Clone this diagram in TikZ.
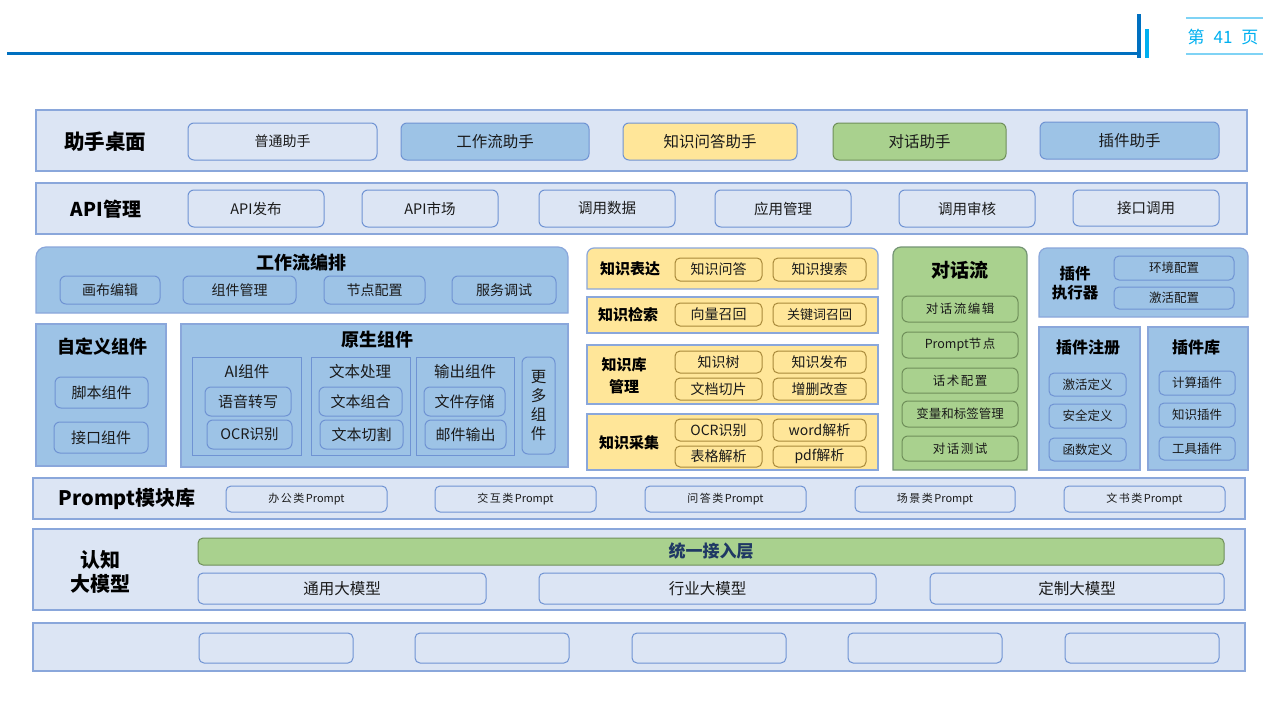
\documentclass[tikz,border=0pt]{standalone}
\usepackage{fontspec}
\setmainfont{Noto Sans CJK SC}
\usetikzlibrary{calc}
\definecolor{rowfill}{HTML}{DCE5F4}
\definecolor{rowborder}{HTML}{8AA7DB}
\definecolor{boxborder}{HTML}{6F93D3}
\definecolor{cblue}{HTML}{9DC3E6}
\definecolor{cyellow}{HTML}{FFE699}
\definecolor{cgreen}{HTML}{A9D18E}
\definecolor{goldborder}{HTML}{A8893A}
\definecolor{greenborder}{HTML}{6F8F5A}
\definecolor{hdrblue}{HTML}{0070C0}
\definecolor{hdrcyan}{HTML}{00B0F0}
\definecolor{hdrlight}{HTML}{7FD3F5}
\definecolor{navy}{HTML}{1F3864}
\definecolor{txt}{HTML}{1A1A1A}
\newcommand\fsz[2]{\fontsize{#1}{#2}\selectfont}
\newcommand\mkbox[7]{\node[#2, minimum width={(#5-#3)*1pt}, minimum height={(#6-#4)*1pt}] (#1) at ({(#3+#5)/2},{(#4+#6)/2}) {#7};}
\newcommand\toprounded[4]{\draw[#2] (#1.south west) -- ([yshift=-#3]#1.north west) arc[start angle=180,end angle=90,radius=#3] -- ([xshift=-#3]#1.north east) arc[start angle=90,end angle=0,radius=#3] -- (#1.south east) -- cycle;}
\newcommand\tsp{\hspace{1.5pt}}
\tikzset{
  base/.style={inner sep=0pt, outer sep=0pt, text=txt},
  rowbox/.style={base, rectangle, fill=rowfill, draw=rowborder, line width=1.2pt},
  blk/.style={base, rectangle, draw=rowborder, line width=1.2pt},
  ghost/.style={base, rectangle},
  lbl/.style={base, font=\bfseries\fsz{19}{23}, text=black, align=center},
  ttl/.style={base, font=\bfseries\fsz{18}{22}, text=black, align=center},
  klbl/.style={base, font=\bfseries\fsz{15}{22}, text=black, align=center},
  sbox/.style={base, rectangle, rounded corners=6pt, draw=boxborder, fill=rowfill, line width=1pt, font=\fsz{15.5}{18}},
  abox/.style={base, rectangle, rounded corners=6pt, draw=boxborder, fill=rowfill, line width=1pt, font=\fsz{14.5}{17}},
  wbox/.style={base, rectangle, rounded corners=6pt, draw=boxborder, fill=cblue, line width=1pt, font=\fsz{14}{17}},
  cbox/.style={base, rectangle, rounded corners=6pt, draw=boxborder, fill=cblue, line width=1pt, font=\fsz{15}{18}},
  grp/.style={base, rectangle, draw=boxborder, fill=cblue, line width=1pt},
  gtl/.style={base, font=\fsz{15.5}{18}},
  kbox/.style={base, rectangle, rounded corners=5pt, draw=goldborder, fill=cyellow, line width=1pt, font=\fsz{14}{17}},
  gbox/.style={base, rectangle, rounded corners=6pt, draw=greenborder, fill=cgreen, line width=1pt, font=\fsz{12.5}{15}},
  pbox/.style={base, rectangle, rounded corners=5pt, draw=boxborder, fill=cblue, line width=1pt, font=\fsz{12.5}{15}},
  prbox/.style={base, rectangle, rounded corners=5pt, draw=boxborder, fill=rowfill, line width=1pt, font=\fsz{11}{13}},
  mbox/.style={base, rectangle, rounded corners=5pt, draw=boxborder, fill=rowfill, line width=1pt, font=\fsz{15.5}{18}},
}
\begin{document}
\begin{tikzpicture}[x=1pt,y=-1pt]
\useasboundingbox[fill=white] (0,0) rectangle (1280,720);
% header
\draw[hdrblue, line width=2.2pt] (7,53.5) -- (1137,53.5);
\draw[hdrblue, line width=4pt] (1139,14) -- (1139,58);
\draw[hdrcyan, line width=3.5pt] (1147,29) -- (1147,58);
\draw[hdrlight, line width=2pt] (1186,18) -- (1263,18);
\draw[hdrlight, line width=2pt] (1186,53.5) -- (1263,53.5);
\node[base, text=hdrcyan, font=\fsz{17}{20}] (page) at (1223,37) {第\hspace{9pt}41\hspace{9pt}页};

% row 1
\mkbox{r1}{rowbox}{36}{110}{1247}{171}{}
\node[lbl, font=\bfseries\fsz{20.5}{24}] (r1l) at (105,142) {助手桌面};
\mkbox{a1}{sbox,font=\fsz{14}{17}}{188}{123}{377}{160}{普通助手}
\mkbox{a2}{sbox,fill=cblue}{401}{123}{589}{160}{工作流助手}
\mkbox{a3}{sbox,fill=cyellow}{623}{123}{797}{160}{知识问答助手}
\mkbox{a4}{sbox,fill=cgreen,draw=greenborder}{833}{123}{1006}{160}{对话助手}
\mkbox{a5}{sbox,fill=cblue}{1040}{122}{1219}{159}{插件助手}

% row 2
\mkbox{r2}{rowbox}{36}{183}{1247}{234}{}
\node[lbl] (r2l) at (106,209) {API管理};
\mkbox{b1}{abox}{188}{190}{324}{227}{API发布}
\mkbox{b2}{abox}{362}{190}{498}{227}{API市场}
\mkbox{b3}{abox}{539}{190}{675}{227}{调用数据}
\mkbox{b4}{abox}{715}{190}{851}{227}{应用管理}
\mkbox{b5}{abox}{899}{190}{1035}{227}{调用审核}
\mkbox{b6}{abox}{1073}{190}{1219}{226}{接口调用}

% workflow
\mkbox{wf}{ghost}{36}{247}{568}{313}{}
\toprounded{wf}{fill=cblue, draw=rowborder, line width=1.2pt}{10pt}{}
\node[ttl] (wft) at (301,263) {工作流编排};
\mkbox{w1}{wbox}{60}{276}{160}{304}{画布编辑}
\mkbox{w2}{wbox}{183}{276}{296}{304}{组件管理}
\mkbox{w3}{wbox}{324}{276}{425}{304}{节点配置}
\mkbox{w4}{wbox}{452}{276}{556}{304}{服务调试}

% custom components
\mkbox{cc}{blk,fill=cblue}{36}{324}{166}{466}{}
\node[ttl] (cct) at (102,347) {自定义组件};
\mkbox{c1}{cbox}{55}{377}{148}{408}{脚本组件}
\mkbox{c2}{cbox}{54}{422}{148}{453}{接口组件}

% native components
\mkbox{nc}{blk,fill=cblue}{181}{324}{568}{467}{}
\node[ttl] (nct) at (377,340) {原生组件};
\mkbox{g1}{grp}{192}{357}{301}{455}{}
\node[gtl] (g1t) at (247,372) {AI组件};
\mkbox{g1a}{cbox}{205}{387}{291}{416}{语音转写}
\mkbox{g1b}{cbox,font=\fsz{14.5}{17}}{207}{420}{292}{449}{OCR识别}
\mkbox{g2}{grp}{311}{357}{410}{455}{}
\node[gtl] (g2t) at (360,372) {文本处理};
\mkbox{g2a}{cbox}{319}{387}{402}{416}{文本组合}
\mkbox{g2b}{cbox}{320}{420}{403}{449}{文本切割}
\mkbox{g3}{grp}{416}{357}{514}{455}{}
\node[gtl] (g3t) at (465,372) {输出组件};
\mkbox{g3a}{cbox}{424}{387}{505}{416}{文件存储}
\mkbox{g3b}{cbox}{425}{420}{506}{449}{邮件输出}
\mkbox{g4}{cbox,align=center,font=\fsz{15.5}{19}}{522}{357}{555}{454}{更\\多\\组\\件}

% knowledge
\mkbox{k1}{ghost}{587}{248}{878}{289}{}
\toprounded{k1}{fill=cyellow, draw=rowborder, line width=1.2pt}{7pt}{}
\node[klbl] (k1l) at (630,269) {知识表达};
\mkbox{k1a}{kbox}{675}{258}{762}{281}{知识问答}
\mkbox{k1b}{kbox}{773}{258}{866}{281}{知识搜索}
\mkbox{k2}{blk,fill=cyellow}{587}{297}{878}{333}{}
\node[klbl] (k2l) at (628,315) {知识检索};
\mkbox{k2a}{kbox}{675}{303}{762}{326}{向量召回}
\mkbox{k2b}{kbox,font=\fsz{13}{16}}{773}{303}{866}{326}{关键词召回}
\mkbox{k3}{blk,fill=cyellow}{587}{345}{878}{404}{}
\node[klbl] (k3l) at (624,376) {知识库\\管理};
\mkbox{k3a}{kbox}{675}{351}{762}{373}{知识树}
\mkbox{k3b}{kbox}{773}{351}{866}{373}{知识发布}
\mkbox{k3c}{kbox}{675}{378}{762}{400}{文档切片}
\mkbox{k3d}{kbox}{773}{378}{866}{400}{增删改查}
\mkbox{k4}{blk,fill=cyellow}{587}{414}{878}{470}{}
\node[klbl] (k4l) at (629,443) {知识采集};
\mkbox{k4a}{kbox}{675}{419}{762}{441}{OCR识别}
\mkbox{k4b}{kbox}{773}{419}{866}{441}{word解析}
\mkbox{k4c}{kbox}{675}{446}{762}{467}{表格解析}
\mkbox{k4d}{kbox}{773}{446}{866}{467}{pdf解析}

% dialog flow
\mkbox{df}{ghost}{893}{247}{1027}{470}{}
\toprounded{df}{fill=cgreen, draw=greenborder!80!rowborder, line width=1.2pt}{8pt}{}
\node[ttl, font=\bfseries\fsz{19}{22}] (dft) at (960,270) {对话流};
\mkbox{d1}{gbox}{902}{296}{1018}{322}{对\tsp 话\tsp 流\tsp 编\tsp 辑}
\mkbox{d2}{gbox}{902}{332}{1018}{358}{Prompt节\tsp 点}
\mkbox{d3}{gbox}{902}{368}{1018}{393}{话\tsp 术\tsp 配\tsp 置}
\mkbox{d4}{gbox}{902}{401}{1018}{427}{变量和标签管理}
\mkbox{d5}{gbox}{902}{436}{1018}{461}{对\tsp 话\tsp 测\tsp 试}

% plugins
\mkbox{pe}{ghost}{1039}{248}{1248}{317}{}
\toprounded{pe}{fill=cblue, draw=rowborder, line width=1.2pt}{8pt}{}
\node[klbl, font=\bfseries\fsz{15.5}{19}] (pel) at (1075,283) {插件\\执行器};
\mkbox{pe1}{pbox}{1114}{256}{1234}{280}{环境配置}
\mkbox{pe2}{pbox}{1114}{287}{1234}{309}{激活配置}
\mkbox{pr}{blk,fill=cblue}{1039}{327}{1140}{470}{}
\node[ttl, font=\bfseries\fsz{16}{19}] (prt) at (1088,347) {插件注册};
\mkbox{pr1}{pbox}{1049}{373}{1126}{396}{激活定义}
\mkbox{pr2}{pbox}{1049}{404}{1126}{428}{安全定义}
\mkbox{pr3}{pbox}{1049}{438}{1126}{461}{函数定义}
\mkbox{pl}{blk,fill=cblue}{1148}{327}{1248}{470}{}
\node[ttl, font=\bfseries\fsz{16}{19}] (plt) at (1196,347) {插件库};
\mkbox{pl1}{pbox}{1159}{371}{1235}{395}{计算插件}
\mkbox{pl2}{pbox}{1159}{403}{1235}{427}{知识插件}
\mkbox{pl3}{pbox}{1159}{437}{1235}{460}{工具插件}

% prompt row
\mkbox{r3}{rowbox}{33}{478}{1245}{519}{}
\node[lbl, font=\bfseries\fsz{20}{24}] (r3l) at (127,499) {Prompt模块库};
\mkbox{p1}{prbox}{226}{486}{387}{512}{办\tsp 公\tsp 类\tsp Prompt}
\mkbox{p2}{prbox}{435}{486}{596}{512}{交\tsp 互\tsp 类\tsp Prompt}
\mkbox{p3}{prbox}{645}{486}{806}{512}{问\tsp 答\tsp 类\tsp Prompt}
\mkbox{p4}{prbox}{855}{486}{1015}{512}{场\tsp 景\tsp 类\tsp Prompt}
\mkbox{p5}{prbox}{1064}{486}{1225}{512}{文\tsp 书\tsp 类\tsp Prompt}

% model row
\mkbox{r4}{rowbox}{33}{529}{1245}{610}{}
\node[lbl, font=\bfseries\fsz{20}{24}] (r4l) at (100,572) {认知\\大模型};
\mkbox{m0}{base,rectangle,rounded corners=5pt,fill=cgreen,draw=greenborder,line width=1pt,text=navy,font=\bfseries\fsz{17}{20}}{198}{538}{1224}{565}{统一接入层}
\mkbox{m1}{mbox}{198}{573}{486}{604}{通用大模型}
\mkbox{m2}{mbox}{539}{573}{876}{604}{行业大模型}
\mkbox{m3}{mbox}{930}{573}{1224}{604}{定制大模型}

% bottom row
\mkbox{r5}{rowbox}{33}{623}{1245}{671}{}
\mkbox{e1}{mbox}{199}{633}{353}{663}{}
\mkbox{e2}{mbox}{415}{633}{569}{663}{}
\mkbox{e3}{mbox}{632}{633}{786}{663}{}
\mkbox{e4}{mbox}{848}{633}{1002}{663}{}
\mkbox{e5}{mbox}{1065}{633}{1219}{663}{}
\end{tikzpicture}
\end{document}
